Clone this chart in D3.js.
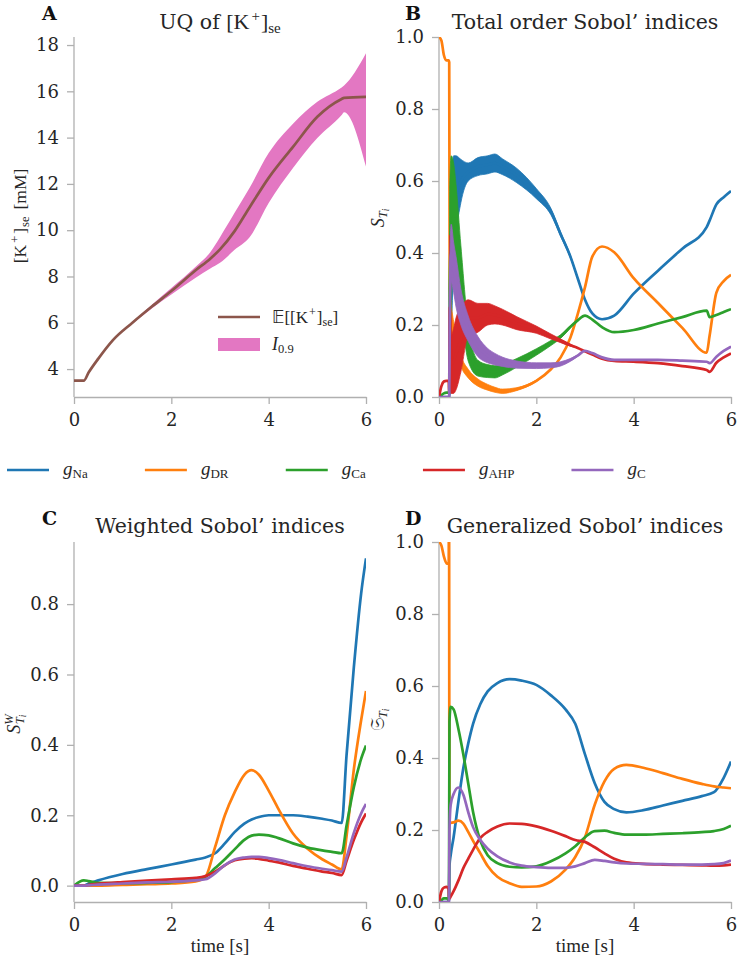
<!DOCTYPE html>
<html><head><meta charset="utf-8">
<script src="https://cdn.jsdelivr.net/npm/d3@7"></script>
<style>body{margin:0;background:#fff} svg{display:block}</style>
</head><body>
<svg id="c" width="738" height="960"></svg>
<script>
// ---------- DATA ----------
// Panel A: UQ of [K+]se
const tA    = [0, 0.2, 0.3, 0.5, 0.8, 1.2, 1.6, 2.0, 2.5, 2.8, 3.0, 3.3, 3.6, 4.0, 4.5, 5.0, 5.5, 5.55, 6.0];
const meanA = [3.5, 3.5, 3.85, 4.45, 5.25, 6.0, 6.7, 7.37, 8.27, 8.77, 9.17, 9.96, 10.96, 12.26, 13.6, 14.9, 15.67, 15.72, 15.76];
const hiA   = [3.5, 3.5, 3.86, 4.47, 5.28, 6.04, 6.78, 7.5, 8.42, 9.05, 9.7, 10.75, 11.8, 13.33, 14.6, 15.55, 16.17, 16.25, 17.64];
const loA   = [3.5, 3.5, 3.84, 4.43, 5.22, 5.96, 6.62, 7.22, 7.95, 8.35, 8.59, 9.15, 9.67, 11.18, 12.69, 13.98, 14.98, 15.1, 12.75];
const yTicksA = [4, 6, 8, 10, 12, 14, 16, 18];

// Panel B: total order Sobol' indices (value + oscillation half-width)
const tB = [0, 0.05, 0.1, 0.15, 0.2, 0.21, 0.22, 0.25, 0.3, 0.35, 0.45, 0.6, 0.8, 1.0, 1.15, 1.3, 1.6, 2.0, 2.3, 2.5, 2.7, 2.85, 3.0, 3.15, 3.35, 3.6, 4.0, 4.5, 5.0, 5.5, 5.56, 5.7, 5.85, 6.0];
const naB     = [0, 0, 0, 0, 0, 0, 0.05, 0.35, 0.52, 0.56, 0.6, 0.625, 0.64, 0.645, 0.65, 0.64, 0.615, 0.565, 0.515, 0.452, 0.39, 0.33, 0.27, 0.232, 0.216, 0.226, 0.287, 0.351, 0.412, 0.472, 0.49, 0.535, 0.555, 0.572];
const naAmpB  = [0, 0, 0, 0, 0, 0, 0.03, 0.2, 0.15, 0.11, 0.06, 0.025, 0.025, 0.025, 0.025, 0.022, 0.02, 0.014, 0.009, 0.006, 0.004, 0.002, 0, 0, 0, 0, 0, 0, 0, 0, 0, 0, 0, 0];
const drB     = [1.0, 0.99, 0.95, 0.935, 0.935, 0.93, 0.3, 0.22, 0.18, 0.15, 0.1, 0.065, 0.04, 0.027, 0.02, 0.016, 0.022, 0.045, 0.077, 0.11, 0.165, 0.23, 0.305, 0.39, 0.418, 0.402, 0.33, 0.261, 0.192, 0.123, 0.17, 0.29, 0.322, 0.339];
const drAmpB  = [0, 0, 0, 0, 0, 0, 0.02, 0.04, 0.03, 0.02, 0.015, 0.012, 0.01, 0.008, 0.007, 0.006, 0.004, 0.002, 0, 0, 0, 0, 0, 0, 0, 0, 0, 0, 0, 0, 0, 0, 0, 0];
const caB     = [0, 0.005, 0.01, 0.012, 0.012, 0.01, 0.3, 0.46, 0.5, 0.47, 0.33, 0.15, 0.08, 0.072, 0.07, 0.076, 0.095, 0.125, 0.15, 0.168, 0.195, 0.213, 0.226, 0.215, 0.194, 0.18, 0.186, 0.204, 0.222, 0.24, 0.222, 0.228, 0.236, 0.244];
const caAmpB  = [0, 0, 0, 0, 0, 0, 0.28, 0.21, 0.15, 0.12, 0.09, 0.05, 0.022, 0.018, 0.017, 0.015, 0.012, 0.009, 0.007, 0.005, 0.003, 0, 0, 0, 0, 0, 0, 0, 0, 0, 0, 0, 0, 0];
const ahpB    = [0, 0.03, 0.043, 0.045, 0.045, 0.01, 0.25, 0.09, 0.1, 0.12, 0.16, 0.22, 0.22, 0.23, 0.228, 0.222, 0.205, 0.187, 0.168, 0.156, 0.144, 0.136, 0.127, 0.118, 0.106, 0.1, 0.098, 0.094, 0.086, 0.075, 0.07, 0.095, 0.11, 0.121];
const ahpAmpB = [0, 0, 0, 0, 0, 0, 0.2, 0.08, 0.09, 0.1, 0.09, 0.05, 0.04, 0.03, 0.025, 0.022, 0.018, 0.01, 0.007, 0.005, 0.003, 0, 0, 0, 0, 0, 0, 0, 0, 0, 0, 0, 0, 0];
const cB      = [0, 0, 0, 0, 0, 0, 0.2, 0.4, 0.36, 0.32, 0.25, 0.19, 0.14, 0.115, 0.105, 0.098, 0.09, 0.087, 0.088, 0.092, 0.103, 0.115, 0.128, 0.122, 0.11, 0.103, 0.103, 0.103, 0.101, 0.098, 0.094, 0.112, 0.128, 0.14];
const cAmpB   = [0, 0, 0, 0, 0, 0, 0.15, 0.08, 0.07, 0.07, 0.05, 0.035, 0.028, 0.02, 0.016, 0.013, 0.01, 0.008, 0.007, 0.006, 0.004, 0.002, 0, 0, 0, 0, 0, 0, 0, 0, 0, 0, 0, 0];

// Panel C: weighted Sobol' indices
const tC   = [0, 0.2, 0.3, 0.5, 1.0, 1.5, 2.0, 2.5, 2.7, 2.9, 3.1, 3.3, 3.5, 3.65, 3.8, 4.0, 4.2, 4.5, 4.8, 5.1, 5.3, 5.5, 5.6, 5.75, 5.9, 6.0];
const naC  = [0, 0, 0.006, 0.015, 0.033, 0.047, 0.06, 0.074, 0.08, 0.092, 0.12, 0.152, 0.176, 0.188, 0.195, 0.2, 0.2, 0.2, 0.196, 0.19, 0.185, 0.178, 0.37, 0.62, 0.83, 0.93];
const drC  = [0, 0, 0, 0, 0.002, 0.004, 0.006, 0.012, 0.025, 0.11, 0.2, 0.265, 0.315, 0.328, 0.315, 0.27, 0.218, 0.148, 0.105, 0.075, 0.06, 0.046, 0.14, 0.33, 0.47, 0.553];
const caC  = [0, 0.015, 0.013, 0.008, 0.007, 0.008, 0.01, 0.018, 0.025, 0.05, 0.075, 0.103, 0.13, 0.142, 0.145, 0.143, 0.135, 0.12, 0.108, 0.1, 0.096, 0.092, 0.17, 0.28, 0.36, 0.398];
const ahpC = [0, 0, 0.002, 0.005, 0.01, 0.014, 0.018, 0.022, 0.027, 0.04, 0.058, 0.072, 0.077, 0.078, 0.076, 0.071, 0.066, 0.056, 0.048, 0.04, 0.036, 0.03, 0.07, 0.13, 0.18, 0.205];
const cC   = [0, 0, 0.001, 0.003, 0.006, 0.009, 0.011, 0.015, 0.018, 0.035, 0.058, 0.074, 0.08, 0.082, 0.082, 0.078, 0.073, 0.064, 0.055, 0.048, 0.044, 0.04, 0.08, 0.15, 0.205, 0.232];

// Panel D: generalized Sobol' indices
const tD   = [0, 0.05, 0.1, 0.16, 0.2, 0.205, 0.215, 0.24, 0.3, 0.4, 0.5, 0.6, 0.7, 0.85, 1.0, 1.2, 1.45, 1.7, 2.0, 2.3, 2.6, 2.8, 3.0, 3.2, 3.4, 3.6, 3.85, 4.2, 4.6, 5.0, 5.4, 5.65, 5.85, 6.0];
const naD  = [0, 0, 0, 0, 0, 0, 0.1, 0.13, 0.18, 0.28, 0.372, 0.44, 0.495, 0.55, 0.585, 0.608, 0.619, 0.615, 0.603, 0.574, 0.535, 0.495, 0.41, 0.33, 0.278, 0.258, 0.249, 0.255, 0.268, 0.281, 0.294, 0.305, 0.345, 0.39];
const drD  = [1.0, 0.99, 0.96, 0.94, 0.94, 1.3, 0.22, 0.22, 0.221, 0.226, 0.218, 0.195, 0.17, 0.135, 0.1, 0.07, 0.052, 0.042, 0.043, 0.057, 0.09, 0.125, 0.18, 0.27, 0.335, 0.37, 0.381, 0.373, 0.358, 0.342, 0.328, 0.321, 0.318, 0.316];
const caD  = [0, 0.005, 0.01, 0.01, 0.005, 0.01, 0.5, 0.542, 0.535, 0.48, 0.41, 0.33, 0.25, 0.17, 0.13, 0.108, 0.098, 0.096, 0.099, 0.113, 0.135, 0.155, 0.18, 0.197, 0.198, 0.192, 0.187, 0.187, 0.189, 0.191, 0.194, 0.197, 0.203, 0.212];
const ahpD = [0, 0.03, 0.04, 0.042, 0.035, 0.01, 0.01, 0.015, 0.03, 0.06, 0.094, 0.12, 0.145, 0.178, 0.195, 0.21, 0.218, 0.217, 0.21, 0.198, 0.183, 0.172, 0.167, 0.152, 0.135, 0.12, 0.11, 0.106, 0.104, 0.103, 0.102, 0.101, 0.102, 0.104];
const cD   = [0, 0, 0, 0, 0, 0, 0.2, 0.27, 0.3, 0.318, 0.298, 0.25, 0.208, 0.172, 0.148, 0.127, 0.11, 0.101, 0.097, 0.095, 0.095, 0.099, 0.108, 0.117, 0.114, 0.11, 0.107, 0.106, 0.105, 0.104, 0.104, 0.105, 0.108, 0.115];

const xTicks = [0, 2, 4, 6];
const yTicksS = [0, 0.2, 0.4, 0.6, 0.8, 1.0];
const yTicksC = [0, 0.2, 0.4, 0.6, 0.8];
const paramNames = ['Na', 'DR', 'Ca', 'AHP', 'C'];
const colors = ['#1f77b4', '#ff7f0e', '#2ca02c', '#d62728', '#9467bd'];

// ---------- DRAWING ----------
const svg = d3.select('#c');
const SERIF = "'DejaVu Serif', serif";
const MATH = "'Liberation Serif', 'Times New Roman', serif";
const GRAY = '#b0b0b0';
const INK = '#262626';
const LW = 2.7;

function padDomain(arrs) {
  const all = arrs.flat();
  const lo = d3.min(all), hi = d3.max(all), r = hi - lo;
  return [lo - 0.05 * r, hi + 0.05 * r];
}

let clipId = 0;
function makePanel(x0, x1, y0, y1, yDomain, yTicks, yFmt) {
  const x = d3.scaleLinear().domain([0, 6]).range([x0, x1]);
  const y = d3.scaleLinear().domain(yDomain).range([y1, y0]);
  const g = svg.append('g');
  const id = 'clip' + (clipId++);
  svg.append('clipPath').attr('id', id).append('rect')
    .attr('x', x0).attr('y', y0).attr('width', x1 - x0).attr('height', y1 - y0);
  const gx = g.append('g').attr('transform', `translate(0,${y1})`)
    .call(d3.axisBottom(x).tickValues(xTicks).tickFormat(d3.format('d')).tickSize(7).tickPadding(9).tickSizeOuter(0));
  const gy = g.append('g').attr('transform', `translate(${x0},0)`)
    .call(d3.axisLeft(y).tickValues(yTicks).tickFormat(yFmt).tickSize(7).tickPadding(8).tickSizeOuter(0));
  [gx, gy].forEach(a => {
    a.select('.domain').attr('stroke', GRAY).attr('stroke-width', 1.3);
    a.selectAll('.tick line').attr('stroke', GRAY).attr('stroke-width', 1.3);
    a.selectAll('.tick text').attr('font-family', SERIF).attr('font-size', 18).attr('fill', INK);
  });
  gy.select('.domain').attr('d', `M0,${y0}V${y1}`);
  const plot = g.append('g').attr('clip-path', `url(#${id})`);
  return {x, y, plot};
}

function series(p, t, vals, amp, color) {
  const pts = t.map((d, i) => [d, vals[i], amp ? amp[i] : 0]);
  if (amp) {
    p.plot.append('path').datum(pts)
      .attr('d', d3.area().x(d => p.x(d[0])).y0(d => p.y(d[1] - d[2])).y1(d => p.y(d[1] + d[2])).curve(d3.curveMonotoneX))
      .attr('fill', color).attr('stroke', color).attr('stroke-width', 0.8);
  }
  p.plot.append('path').datum(pts)
    .attr('d', d3.line().x(d => p.x(d[0])).y(d => p.y(d[1])).curve(d3.curveMonotoneX))
    .attr('fill', 'none').attr('stroke', color).attr('stroke-width', LW).attr('stroke-linejoin', 'round');
}

const fmt1 = d3.format('.1f');
const fmtInt = d3.format('d');

// Panel A
const pA = makePanel(74, 366, 37, 397, padDomain([meanA, hiA, loA]), yTicksA, fmtInt);
const bandPts = tA.map((d, i) => [d, loA[i], hiA[i]]);
pA.plot.append('path').datum(bandPts)
  .attr('d', d3.area().x(d => pA.x(d[0])).y0(d => pA.y(d[1])).y1(d => pA.y(d[2])).curve(d3.curveMonotoneX))
  .attr('fill', '#e377c2');
series(pA, tA, meanA, null, '#8c564b');

// Panel B
const pB = makePanel(439, 731, 37, 397, [0, 1], yTicksS, fmt1);
[[naB, naAmpB], [drB, drAmpB], [caB, caAmpB], [ahpB, ahpAmpB], [cB, cAmpB]]
  .forEach((s, i) => series(pB, tB, s[0], s[1], colors[i]));

// Panel C
const pC = makePanel(74, 366, 542, 902, padDomain([naC, drC, caC, ahpC, cC]), yTicksC, fmt1);
[naC, drC, caC, ahpC, cC].forEach((s, i) => series(pC, tC, s, null, colors[i]));

// Panel D
const pD = makePanel(439, 731, 542, 902, [0, 1], yTicksS, fmt1);
[naD, drD, caD, ahpD, cD].forEach((s, i) => series(pD, tD, s, null, colors[i]));

// ---------- TEXT ----------
function letter(txt, x, y) {
  svg.append('text').attr('x', x).attr('y', y).attr('font-family', SERIF).attr('font-weight', 'bold')
    .attr('font-size', 19).attr('fill', '#111').text(txt);
}
letter('A', 42, 20); letter('B', 405, 20); letter('C', 42, 525); letter('D', 405, 525);

function title(cx, y) {
  return svg.append('text').attr('x', cx).attr('y', y).attr('text-anchor', 'middle')
    .attr('font-family', SERIF).attr('font-size', 20.5).attr('fill', INK);
}
const tAt = title(220, 29);
tAt.append('tspan').text('UQ of ');
tAt.append('tspan').attr('font-family', MATH).attr('font-size', 22).text('[K');
tAt.append('tspan').attr('font-family', MATH).attr('font-size', 15).attr('dy', -8).attr('dx', 2).text('+');
tAt.append('tspan').attr('font-family', MATH).attr('font-size', 22).attr('dy', 8).attr('dx', 1).text(']');
tAt.append('tspan').attr('font-family', MATH).attr('font-size', 15).attr('dy', 4).text('se');
title(585, 29).text('Total order Sobol\u2019 indices');
title(220, 533).text('Weighted Sobol\u2019 indices');
title(585, 533).text('Generalized Sobol\u2019 indices');

// axis labels
function rotText(cx, cy) {
  return svg.append('text').attr('transform', `translate(${cx},${cy}) rotate(-90)`)
    .attr('text-anchor', 'middle').attr('font-family', MATH).attr('fill', INK);
}
const ylA = rotText(26, 216);
ylA.append('tspan').attr('font-size', 17.5).text('[K');
ylA.append('tspan').attr('font-size', 12.5).attr('dy', -7).attr('dx', 2).text('+');
ylA.append('tspan').attr('font-size', 17.5).attr('dy', 7).attr('dx', 2).text(']');
ylA.append('tspan').attr('font-size', 12.5).attr('dy', 3).attr('dx', 1).text('se');
ylA.append('tspan').attr('font-size', 17.5).attr('dy', -3).attr('dx', 7).text('[mM]');

const ylB = rotText(384, 218);
ylB.append('tspan').attr('font-size', 18).attr('font-style', 'italic').text('S');
ylB.append('tspan').attr('font-size', 12.5).attr('font-style', 'italic').attr('dy', 3).text('T');
ylB.append('tspan').attr('font-size', 9.5).attr('font-style', 'italic').attr('dy', 2).text('i');

const ylC = rotText(20, 724);
ylC.append('tspan').attr('font-size', 18).attr('font-style', 'italic').text('S');
ylC.append('tspan').attr('font-size', 12.5).attr('font-style', 'italic').attr('dy', -7).text('W');
ylC.append('tspan').attr('font-size', 12.5).attr('font-style', 'italic').attr('dy', 11).attr('dx', -10).text('T');
ylC.append('tspan').attr('font-size', 9.5).attr('font-style', 'italic').attr('dy', 2).text('i');

const ylD = rotText(384, 720);
ylD.append('tspan').attr('font-size', 19).attr('font-family', "'DejaVu Sans', 'DejaVu Serif', serif").text('\u{1D516}');
ylD.append('tspan').attr('font-size', 12.5).attr('font-style', 'italic').attr('dy', 3).text('T');
ylD.append('tspan').attr('font-size', 9.5).attr('font-style', 'italic').attr('dy', 2).text('i');

[220, 585].forEach(cx => {
  svg.append('text').attr('x', cx).attr('y', 952).attr('text-anchor', 'middle')
    .attr('font-family', MATH).attr('font-size', 19).attr('fill', INK).text('time [s]');
});

// Panel A legend
svg.append('line').attr('x1', 218).attr('x2', 260).attr('y1', 317).attr('y2', 317)
  .attr('stroke', '#8c564b').attr('stroke-width', LW);
svg.append('rect').attr('x', 218).attr('y', 338).attr('width', 42).attr('height', 13).attr('fill', '#e377c2');
const lgE = svg.append('text').attr('x', 272).attr('y', 323).attr('font-family', MATH).attr('fill', INK);
lgE.append('tspan').attr('font-size', 17).attr('font-family', "'DejaVu Sans', 'DejaVu Serif', serif").text('\u{1D53C}');
lgE.append('tspan').attr('font-size', 17).text('[[K');
lgE.append('tspan').attr('font-size', 12).attr('dy', -7).attr('dx', 1).text('+');
lgE.append('tspan').attr('font-size', 17).attr('dy', 7).attr('dx', 1).text(']');
lgE.append('tspan').attr('font-size', 12).attr('dy', 3).text('se');
lgE.append('tspan').attr('font-size', 17).attr('dy', -3).text(']');
const lgI = svg.append('text').attr('x', 272).attr('y', 350).attr('font-family', MATH).attr('fill', INK);
lgI.append('tspan').attr('font-size', 18).attr('font-style', 'italic').text('I');
lgI.append('tspan').attr('font-size', 12.5).attr('dy', 3).text('0.9');

// Bottom legend
let lx = 7;
paramNames.forEach((n, i) => {
  svg.append('line').attr('x1', lx).attr('x2', lx + 42).attr('y1', 470).attr('y2', 470)
    .attr('stroke', colors[i]).attr('stroke-width', LW);
  const t = svg.append('text').attr('x', lx + 56).attr('y', 475).attr('font-family', MATH).attr('fill', INK);
  t.append('tspan').attr('font-size', 19).attr('font-style', 'italic').text('g');
  t.append('tspan').attr('font-size', 13).attr('dy', 3).text(n);
  const w = t.node().getBBox().width;
  lx = lx + 56 + w + 57;
});
</script>
</body></html>
